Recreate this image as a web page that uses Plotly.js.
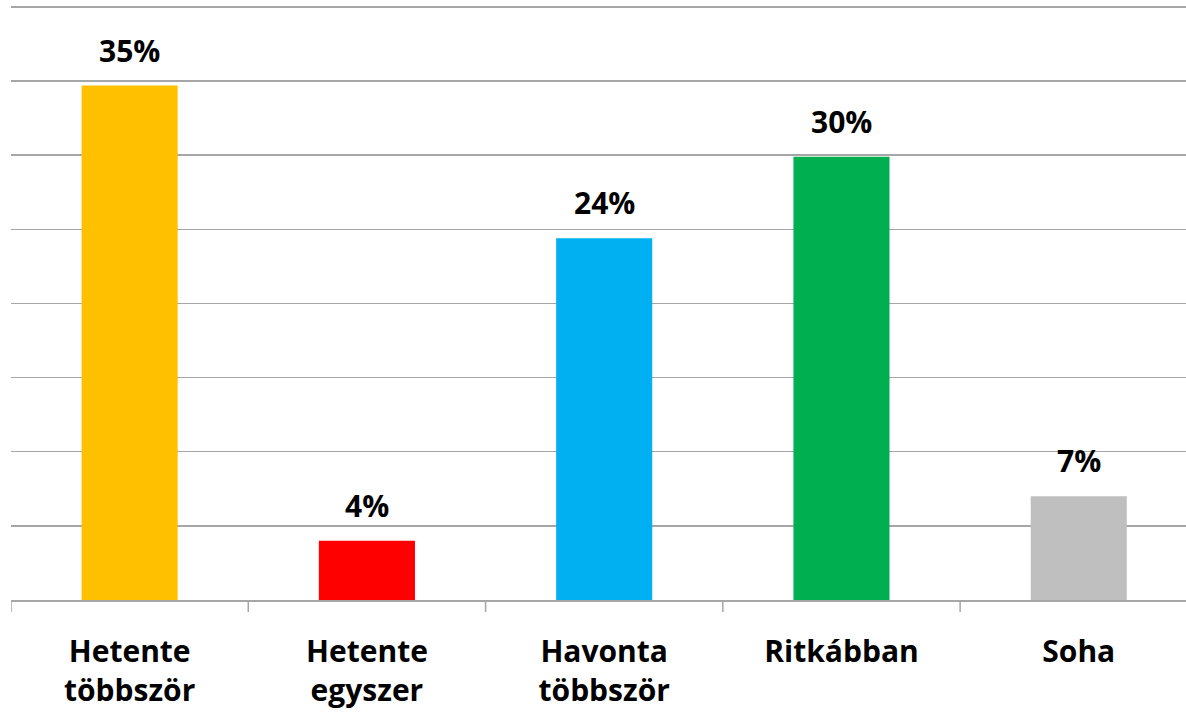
<!DOCTYPE html>
<html>
<head>
<meta charset="utf-8">
<script src="https://cdn.plot.ly/plotly-3.0.1.min.js"></script>
<style>html,body{margin:0;padding:0;background:#fff;}#chart{width:1186px;height:714px;}</style>
</head>
<body>
<div id="chart"></div>
<script>
const categories = ["Hetente<br>többször", "Hetente<br>egyszer", "Havonta<br>többször", "Ritkábban", "Soha"];
const values = [34.7, 4.0, 24.4, 29.9, 7.0];
const valueLabels = ["35%", "4%", "24%", "30%", "7%"];
const barColors = ["#FFC000", "#FF0000", "#00B0F0", "#00B050", "#BFBFBF"];
const yTicks = [0, 5, 10, 15, 20, 25, 30, 35, 40];
const categoryBoundaries = [-0.5, 0.5, 1.5, 2.5, 3.5];

const xIdx = categories.map((_, i) => i);
const fontFam = "'Open Sans', sans-serif";

const trace = {
  type: "bar",
  x: xIdx,
  y: values,
  marker: {color: barColors},
  width: 0.405,
  hoverinfo: "none"
};

const annotations = xIdx.map((x, i) => ({
  x: x, y: values[i], xref: "x", yref: "y",
  text: "<b>" + valueLabels[i] + "</b>",
  showarrow: false, yanchor: "bottom", xanchor: "center",
  yshift: 13,
  font: {family: fontFam, size: 30, color: "#000"}
}));

const layout = {
  width: 1186, height: 714,
  margin: {l: 11, r: 0, t: 5, b: 114, pad: 0},
  paper_bgcolor: "#fff", plot_bgcolor: "#fff",
  showlegend: false,
  xaxis: {
    type: "linear",
    range: [-0.5, 4.452],
    tickmode: "array",
    tickvals: xIdx,
    ticktext: categories.map(c => "<b>" + c + "</b>"),
    tickfont: {family: fontFam, size: 30, color: "#000"},
    ticks: "",
    ticklabelstandoff: 24,
    showgrid: false,
    zeroline: false,
    showline: true,
    linecolor: "#a6a6a6",
    linewidth: 1.5,
    fixedrange: true
  },
  yaxis: {
    range: [0, 40.13],
    tickmode: "array",
    tickvals: yTicks,
    showticklabels: false,
    showgrid: true,
    gridcolor: "#a6a6a6",
    gridwidth: 1.5,
    zeroline: false,
    showline: false,
    ticks: "",
    fixedrange: true
  },
  shapes: categoryBoundaries.map(b => ({
    type: "line", xref: "x", yref: "paper",
    ysizemode: "pixel", yanchor: 0,
    x0: b, x1: b, y0: 0, y1: -12,
    line: {color: "#a6a6a6", width: 1.5}
  })),
  annotations: annotations
};

Plotly.newPlot("chart", [trace], layout, {displayModeBar: false, staticPlot: true});
</script>
</body>
</html>
